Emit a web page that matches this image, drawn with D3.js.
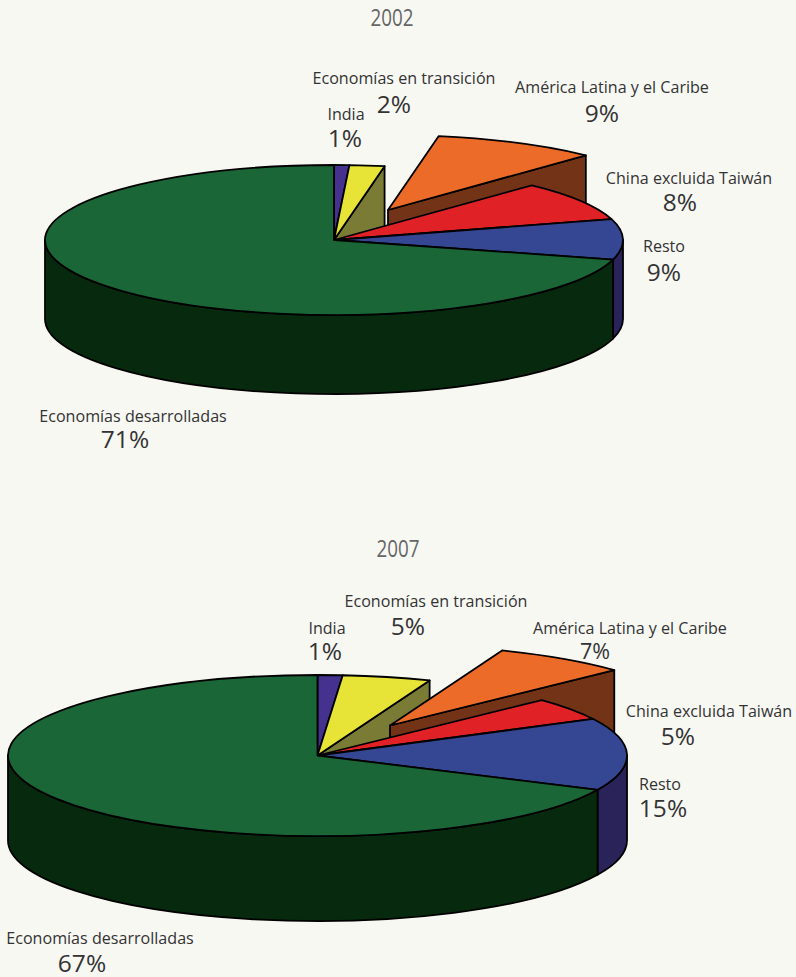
<!DOCTYPE html>
<html>
<head>
<meta charset="utf-8">
<script src="https://cdnjs.cloudflare.com/ajax/libs/d3/7.8.5/d3.min.js"></script>
<style>
html, body { margin: 0; padding: 0; background: #f8f8f3; }
svg { display: block; }
text { font-family: "Open Sans", sans-serif; fill: #333; text-anchor: middle; }
.name { font-size: 16.1px; }
.pct { font-size: 24.5px; }
.title { font-size: 23px; fill: #666; }
</style>
</head>
<body>
<svg id="chart" width="796" height="977"></svg>
<script>
// slices go clockwise from 12 o'clock
const categories = ["India", "Economías en transición", "América Latina y el Caribe", "China excluida Taiwán", "Resto", "Economías desarrolladas"];
const years = ["2002", "2007"];
// drawn shares (the printed labels are rounded)
const shares2002 = [0.85, 1.95, 9.2, 8.5, 8.7, 70.8];
const shares2007 = [1.3, 4.6, 7.0, 4.6, 14.5, 68];
const labels2002 = ["1%", "2%", "9%", "8%", "9%", "71%"];
const labels2007 = ["1%", "5%", "7%", "5%", "15%", "67%"];

const topColors = ["#45328f", "#e7e337", "#ec6b29", "#e02226", "#354793", "#1a6636"];
const wallColors = ["#2a2359", "#7a7c35", "#733316", "#7a1414", "#2a2359", "#072a0e"];

// layout of the two pies, and [x, baseline] of each name and percent text
const pie2002 = {cx: 334, cy: 240, rx: 289, ry: 75, depth: 79, burst: [54, -30], titleAt: [392, 26],
    nameAt: [[346, 120], [404, 84], [612, 93], [689, 184], [664, 252], [133, 422]],
    pctAt: [[345, 147], [394, 113], [602, 122], [680, 211], [664, 281], [125, 448]], pctSize: {}};
const pie2007 = {cx: 317.5, cy: 755.5, rx: 309.5, ry: 80.5, depth: 85, burst: [72.5, -30], titleAt: [398, 557],
    nameAt: [[327, 634], [436, 607], [630, 634], [709, 717], [660, 790], [100, 944]],
    pctAt: [[325, 660], [408, 635], [595, 659], [678, 745], [663, 817], [82, 972]], pctSize: {2: 21.5}};

const svg = d3.select("#chart");
const RIGHT = Math.PI / 2, LEFT = Math.PI * 1.5;
const burstIndex = 2, cutWallIndex = 1;

function drawPie(shares, labels, year, o) {
    const x = d3.scaleLinear().domain([-1, 1]).range([o.cx - o.rx, o.cx + o.rx]);
    const y = d3.scaleLinear().domain([-1, 1]).range([o.cy + o.ry, o.cy - o.ry]);
    const slices = d3.pie().sort(null).value(d => d)(shares);
    const rim = a => [x(Math.sin(a)), y(Math.cos(a))];
    const g = svg.append("g").attr("stroke", "#000").attr("stroke-width", 1.8).attr("stroke-linejoin", "round");

    function arcTo(a0, a1) {
        let p = rim(a1);
        return `A${o.rx},${o.ry} 0 ${a1 - a0 > Math.PI ? 1 : 0} 1 ${p[0]},${p[1]}`;
    }

    // side wall on the visible front half of the rim
    function wallPath(a0, a1) {
        let p0 = rim(a0);
        return `M${p0}` + arcTo(a0, a1) + `v${o.depth}` +
            `A${o.rx},${o.ry} 0 ${a1 - a0 > Math.PI ? 1 : 0} 0 ${p0[0]},${p0[1] + o.depth}Z`;
    }

    // cut face from the pie centre out to the rim at angle a
    function cutPath(a, dx, dy) {
        let p = rim(a);
        return `M${o.cx + dx},${o.cy + dy}L${p[0] + dx},${p[1] + dy}v${o.depth}L${o.cx + dx},${o.cy + dy + o.depth}Z`;
    }

    function topPath(s) {
        let p = rim(s.startAngle);
        return `M${o.cx},${o.cy}L${p}` + arcTo(s.startAngle, s.endAngle) + "Z";
    }

    // back to front: cut faces, outer walls, then the tops
    g.append("path").attr("d", cutPath(slices[cutWallIndex].endAngle, 0, 0)).attr("fill", wallColors[cutWallIndex]);
    g.append("path").attr("d", cutPath(slices[burstIndex].endAngle, o.burst[0], o.burst[1])).attr("fill", wallColors[burstIndex]);

    slices.forEach((s, i) => {
        let a0 = Math.max(s.startAngle, RIGHT), a1 = Math.min(s.endAngle, LEFT);
        if (a1 > a0) g.append("path").attr("d", wallPath(a0, a1)).attr("fill", wallColors[i]);
    });

    g.selectAll("path.top")
        .data(slices)
        .enter()
        .append("path")
        .attr("class", "top")
        .attr("d", topPath)
        .attr("transform", (d, i) => i === burstIndex ? `translate(${o.burst})` : null)
        .attr("fill", (d, i) => topColors[i]);

    svg.append("text").attr("class", "title")
        .attr("x", o.titleAt[0]).attr("y", o.titleAt[1])
        .attr("textLength", 43).attr("lengthAdjust", "spacingAndGlyphs")
        .text(year);
    categories.forEach((c, i) => {
        svg.append("text").attr("class", "name").attr("x", o.nameAt[i][0]).attr("y", o.nameAt[i][1]).text(c);
        svg.append("text").attr("class", "pct").attr("x", o.pctAt[i][0]).attr("y", o.pctAt[i][1])
            .style("font-size", o.pctSize[i] ? o.pctSize[i] + "px" : null)
            .text(labels[i]);
    });
}

drawPie(shares2002, labels2002, years[0], pie2002);
drawPie(shares2007, labels2007, years[1], pie2007);
</script>
</body>
</html>
